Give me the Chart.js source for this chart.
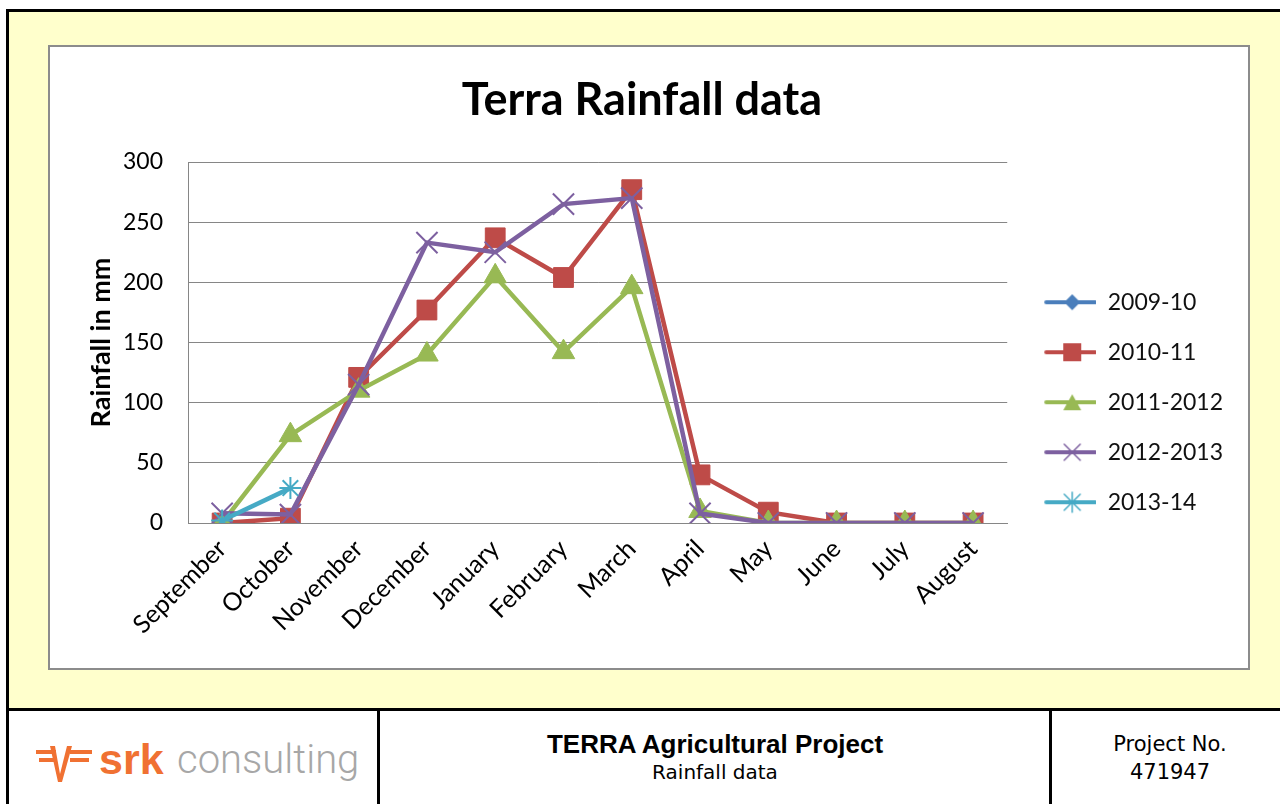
<!DOCTYPE html>
<html>
<head>
<meta charset="utf-8">
<script src="https://cdn.jsdelivr.net/npm/chart.js@4.4.1/dist/chart.umd.min.js"></script>
<style>
  body { margin: 0; width: 1280px; height: 804px; background: #fff; position: relative; overflow: hidden; }
  #frame { position: absolute; left: 6px; top: 9px; width: 1280px; height: 798px; border-left: 3px solid #000; border-top: 3px solid #000; background: #ffffcc; box-sizing: border-box; }
  #box { position: absolute; left: 48px; top: 45px; width: 1202px; height: 625px; border: 2px solid #8c8c8c; background: #fff; box-sizing: border-box; }
  #chartWrap { position: absolute; left: 51px; top: 48px; width: 1196px; height: 619px; }
  #footer { position: absolute; left: 6px; top: 708px; width: 1280px; height: 100px; border-top: 3px solid #000; border-left: 3px solid #000; background: #fff; box-sizing: border-box; }
  .div { position: absolute; top: 708px; width: 3px; height: 100px; background: #000; }
  .mid { position: absolute; left: 380px; width: 670px; top: 729px; text-align: center; }
  .mid .t1 { font: bold 26px "Liberation Sans", Arial, sans-serif; color: #000; line-height: 30px; }
  .mid .t2 { font: 20px "DejaVu Sans", sans-serif; color: #000; line-height: 26px; }
  .proj { position: absolute; left: 1053px; width: 234px; top: 730px; text-align: center; font: 21px "DejaVu Sans", sans-serif; color: #000; line-height: 28px; }
  .logo { position: absolute; left: 34px; top: 738px; height: 50px; }
  .srk { position: absolute; left: 99px; top: 735px; font: bold 43px "Liberation Sans", Arial, sans-serif; color: #f07132; }
  .cons { position: absolute; left: 177px; top: 736px; font: 300 40px Roboto, sans-serif; color: #a7a7a7; }
</style>
</head>
<body>
<div id="frame"></div>
<div id="box"></div>
<div id="chartWrap"><canvas id="rainChart" width="1196" height="619"></canvas></div>
<div id="footer"></div>
<div class="div" style="left:377px"></div>
<div class="div" style="left:1049px"></div>
<svg class="logo" width="64" height="50" viewBox="0 0 64 50">
  <polygon points="2,12 22,12 22,16 2,16" fill="#f07132"/>
  <polygon points="5,20 22,20 22,24 5,24" fill="#f07132"/>
  <polygon points="36,12 58,12 58,16 36,16" fill="#f07132"/>
  <polygon points="36,20 55,20 55,24 36,24" fill="#f07132"/>
  <polygon points="16,8 21,8 26,36 33,8 38,8 28,44 24,44" fill="#f07132"/>
</svg>
<div class="srk">srk</div>
<div class="cons">consulting</div>
<div class="mid"><div class="t1">TERRA Agricultural Project</div><div class="t2">Rainfall data</div></div>
<div class="proj">Project No.<br>471947</div>

<script>
// Maanden op de x-as
const months = ["September", "October", "November", "December", "January", "February",
  "March", "April", "May", "June", "July", "August"];

// Neerslag per seizoen (mm)
const rain2009 = [null, null, null, null, null, null, null, null, null, null, null, null];
const rain2010 = [0, 4, 121, 177, 237, 204, 277, 40, 9, 0, 0, 0];
const rain2011 = [0, 73, 110, 140, 205, 142, 196, 10, 0, 0, 0, 0];
const rain2012 = [8, 7, 115, 233, 225, 265, 270, 8, 0, 0, 0, 0];
const rain2013 = [2, 29, null, null, null, null, null, null, null, null, null, null];

const seasonLabels = ["2009-10", "2010-11", "2011-2012", "2012-2013", "2013-14"];
const seasonColors = ["#4a7ebb", "#be4b48", "#98b954", "#7d60a0", "#46aac5"];
const seasonMarkers = ["rectRot", "rect", "triangle", "crossRot", "star"];
const yTicks = [0, 50, 100, 150, 200, 250, 300];

const FONT = "Lato, 'Open Sans', sans-serif";

// Legenda-icoon: lijn met marker in het midden
function legendIcon(color, marker) {
  const c = document.createElement("canvas");
  c.width = 62;
  c.height = 24;
  const g = c.getContext("2d");
  const cx = 38, cy = 12;
  g.strokeStyle = color;
  g.fillStyle = color;
  g.lineCap = "round";
  g.lineWidth = 4;
  g.beginPath();
  g.moveTo(12, cy);
  g.lineTo(61, cy);
  g.stroke();
  g.lineWidth = 1.5;
  if (marker === "rect") {
    g.fillRect(cx - 9, cy - 9, 18, 18);
  } else if (marker === "rectRot") {
    g.beginPath();
    g.moveTo(cx, cy - 8); g.lineTo(cx + 8, cy); g.lineTo(cx, cy + 8); g.lineTo(cx - 8, cy);
    g.closePath(); g.fill();
  } else if (marker === "triangle") {
    g.beginPath();
    g.moveTo(cx, cy - 8); g.lineTo(cx + 9, cy + 8); g.lineTo(cx - 9, cy + 8);
    g.closePath(); g.fill();
  } else if (marker === "crossRot") {
    g.beginPath();
    g.moveTo(cx - 8, cy - 8); g.lineTo(cx + 8, cy + 8);
    g.moveTo(cx + 8, cy - 8); g.lineTo(cx - 8, cy + 8);
    g.stroke();
  } else if (marker === "star") {
    g.beginPath();
    g.moveTo(cx - 8, cy - 8); g.lineTo(cx + 8, cy + 8);
    g.moveTo(cx + 8, cy - 8); g.lineTo(cx - 8, cy + 8);
    g.moveTo(cx, cy - 10); g.lineTo(cx, cy + 10);
    g.stroke();
  }
  return c;
}

const seriesData = [rain2009, rain2010, rain2011, rain2012, rain2013];
const radii = [10, 14, 13, 15, 11];
const icons = seasonLabels.map((_, i) => legendIcon(seasonColors[i], seasonMarkers[i]));

const datasets = seasonLabels.map((label, i) => ({
  label: label,
  data: seriesData[i],
  borderColor: seasonColors[i],
  backgroundColor: seasonColors[i],
  pointBackgroundColor: seasonColors[i],
  pointBorderColor: seasonColors[i],
  pointStyle: seasonMarkers[i],
  pointRadius: radii[i],
  pointBorderWidth: (seasonMarkers[i] === "crossRot" || seasonMarkers[i] === "star") ? 2 : 1,
  borderWidth: 4.5,
  tension: 0,
  spanGaps: false,
  order: seasonLabels.length - i
}));

const ctx = document.getElementById("rainChart").getContext("2d");

new Chart(ctx, {
  type: "line",
  data: { labels: months, datasets: datasets },
  options: {
    responsive: false,
    animation: false,
    layout: { padding: { left: 0, right: 14, top: 0, bottom: 26 } },
    scales: {
      x: {
        offset: true,
        grid: { display: false },
        border: { display: true, color: "#868686", width: 1 },
        ticks: {
          autoSkip: false,
          maxRotation: 45,
          minRotation: 45,
          padding: 3,
          color: "#000",
          font: { family: FONT, size: 25 }
        },
        afterFit: s => { s.height = 118; }
      },
      y: {
        min: 0,
        max: 300,
        afterBuildTicks: s => { s.ticks = yTicks.map(v => ({ value: v })); },
        grid: { color: "#868686", lineWidth: 1, drawTicks: false },
        border: { display: true, color: "#868686", width: 1 },
        ticks: {
          padding: 25,
          color: "#000",
          font: { family: FONT, size: 23 }
        },
        title: {
          display: true,
          text: "Rainfall in mm",
          color: "#000",
          font: { family: FONT, size: 27, weight: "bold" },
          padding: { top: 34, bottom: 0 }
        },
        afterFit: s => { s.width = 137; }
      }
    },
    plugins: {
      title: {
        display: true,
        text: "Terra Rainfall data",
        color: "#000",
        font: { family: FONT, size: 45, weight: "bold" },
        padding: { top: 25, bottom: 35 }
      },
      legend: {
        position: "right",
        reverse: true,
        title: { display: true, text: "", font: { size: 12 }, padding: { top: 101, bottom: 0 } },
        labels: {
          usePointStyle: true,
          pointStyleWidth: 62,
          padding: 27,
          color: "#111",
          font: { family: FONT, size: 23 },
          generateLabels: chart => {
            const items = Chart.defaults.plugins.legend.labels.generateLabels(chart);
            items.forEach(it => { it.pointStyle = icons[it.datasetIndex]; });
            return items;
          }
        }
      },
      tooltip: { enabled: false }
    }
  }
});
</script>
</body>
</html>
